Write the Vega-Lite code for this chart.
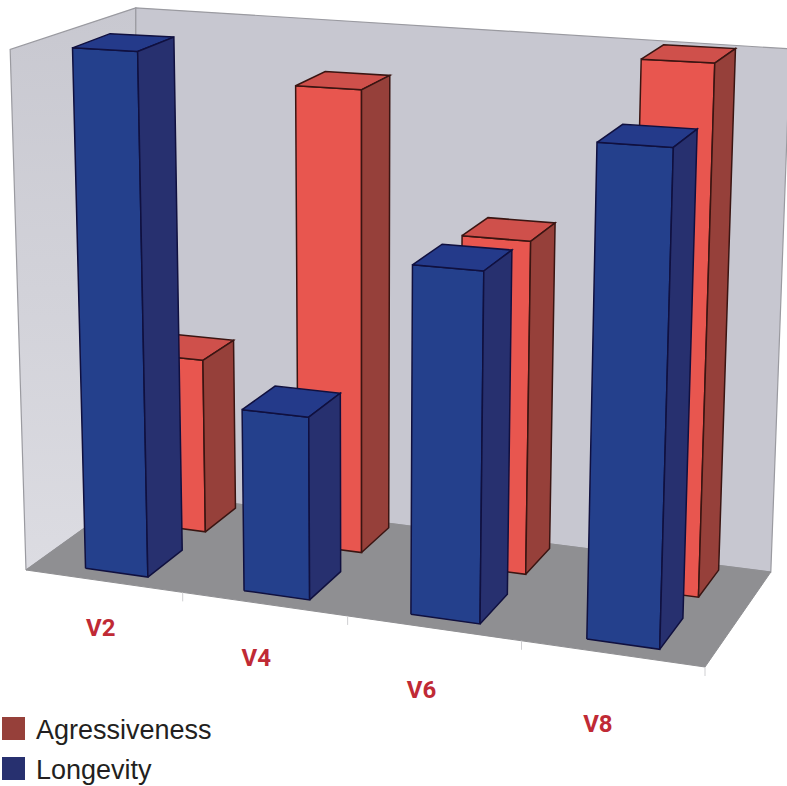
{"$schema":"https://vega.github.io/schema/vega-lite/v6.json","width":787,"height":786,"padding":0,"autosize":{"type":"none"},"background":"white","view":{"stroke":null},
"datasets":{"bars":[
{"category":"V2","series":"Agressiveness","value":35},{"category":"V4","series":"Agressiveness","value":90},{"category":"V6","series":"Agressiveness","value":64},{"category":"V8","series":"Agressiveness","value":98.5},
{"category":"V2","series":"Longevity","value":100},{"category":"V4","series":"Longevity","value":35},{"category":"V6","series":"Longevity","value":65},{"category":"V8","series":"Longevity","value":89}],
"walls":[{"wall":"left"},{"wall":"back"},{"wall":"floor"}],
"ticks":[{"tick":0.25},{"tick":0.5},{"tick":0.75},{"tick":1}],
"labels":[{"category":"V2"},{"category":"V4"},{"category":"V6"},{"category":"V8"}]},
"layer":[
{"data":{"name":"walls"},"transform":[
{"calculate":"datum.wall=='floor'?[[0,0,0,0],[1,1,0,0],[2,1,1,0],[3,0,1,0],[4,0,0,0]]:datum.wall=='back'?[[0,0,1,0],[1,1,1,0],[2,1,1,0.985],[3,0.016,1,1],[4,0,1,0]]:[[0,0,0,0],[1,0,1,0],[2,0.016,1,1],[3,0,0,1],[4,0,0,0]]","as":"vt"},
{"flatten":["vt"]},
{"calculate":"datum.vt[0]","as":"n"},
{"calculate":"(1-0.1*datum.vt[1]+0.08*datum.vt[2]-0.045*datum.vt[3])","as":"w"},
{"calculate":"(26+608.5*datum.vt[1]+120.9*datum.vt[2]-16.3*datum.vt[3])/datum.w","as":"u"},
{"calculate":"(570+30.3*datum.vt[1]-39.7*datum.vt[2]-522.7*datum.vt[3])/datum.w","as":"v"}],
"encoding":{"x":{"field":"u","type":"quantitative","scale":{"domain":[0,787]},"axis":null},"y":{"field":"v","type":"quantitative","scale":{"domain":[786,0]},"axis":null},"order":{"field":"n","type":"quantitative"},"detail":{"field":"wall"}},
"layer":[
{"transform":[{"filter":"datum.wall=='left'"}],"mark":{"type":"line","fill":{"x1":0,"y1":0,"x2":0,"y2":1,"gradient":"linear","stops":[{"offset":0,"color":"#c8c8d0"},{"offset":1,"color":"#dcdce2"}]},"stroke":"#9a9aa0","strokeWidth":1.2}},
{"transform":[{"filter":"datum.wall=='back'"}],"mark":{"type":"line","fill":"#c7c7d0","stroke":"#9a9aa0","strokeWidth":1.2}},
{"transform":[{"filter":"datum.wall=='floor'"}],"mark":{"type":"line","fill":"#8f8f92","stroke":"#8f8f92","strokeWidth":1}}
]},
{"data":{"name":"ticks"},"transform":[
{"calculate":"1-0.1*datum.tick","as":"w"},
{"calculate":"(26+608.5*datum.tick)/datum.w","as":"u"},
{"calculate":"(570+30.3*datum.tick)/datum.w","as":"v"},
{"calculate":"datum.v+9","as":"v2"}],
"mark":{"type":"rule","stroke":"#cfcfd2","strokeWidth":1},
"encoding":{"x":{"field":"u","type":"quantitative","scale":{"domain":[0,787]},"axis":null},"y":{"field":"v","type":"quantitative","scale":{"domain":[786,0]},"axis":null},"y2":{"field":"v2"}}},
{"data":{"name":"bars"},"transform":[
{"calculate":"indexof(['V2','V4','V6','V8'],datum.category)","as":"i"},
{"calculate":"[['front',0,0,0,0],['front',1,1,0,0],['front',2,1,0,1],['front',3,0,0,1],['front',4,0,0,0],['side',0,1,0,0],['side',1,1,1,0],['side',2,1,1,1],['side',3,1,0,1],['side',4,1,0,0],['top',0,0,0,1],['top',1,1,0,1],['top',2,1,1,1],['top',3,0,1,1],['top',4,0,0,1]]","as":"vt"},
{"flatten":["vt"]},
{"calculate":"datum.vt[0]","as":"face"},
{"calculate":"datum.vt[1]","as":"n"},
{"calculate":"0.078+0.2505*datum.i+0.1*datum.vt[2]","as":"a"},
{"calculate":"datum.series=='Longevity'?0.1+0.32*datum.vt[3]:0.645+0.305*datum.vt[3]","as":"d"},
{"calculate":"datum.value/100*datum.vt[4]","as":"h"},
{"calculate":"1-0.1*datum.a+0.08*datum.d-0.045*datum.h","as":"w"},
{"calculate":"(26+608.5*datum.a+120.9*datum.d-16.3*datum.h)/datum.w","as":"u"},
{"calculate":"(570+30.3*datum.a-39.7*datum.d-522.7*datum.h)/datum.w","as":"v"}],
"encoding":{"x":{"field":"u","type":"quantitative","scale":{"domain":[0,787]},"axis":null},"y":{"field":"v","type":"quantitative","scale":{"domain":[786,0]},"axis":null},"order":{"field":"n","type":"quantitative"},"detail":{"field":"category"}},
"layer":[
{"transform":[{"filter":"datum.series=='Agressiveness'&&datum.face=='front'"}],"mark":{"type":"line","fill":"#e8564f","stroke":"#3a1512","strokeWidth":1.5}},
{"transform":[{"filter":"datum.series=='Agressiveness'&&datum.face=='top'"}],"mark":{"type":"line","fill":"#cf504b","stroke":"#3a1512","strokeWidth":1.5}},
{"transform":[{"filter":"datum.series=='Agressiveness'&&datum.face=='side'"}],"mark":{"type":"line","stroke":"#3a1512","strokeWidth":1.5},"encoding":{"fill":{"field":"series","type":"nominal","title":null,"scale":{"domain":["Agressiveness","Longevity"],"range":["#96403a","#27306f"]},"legend":{"orient":"none","legendX":0,"legendY":715,"symbolType":"square","symbolSize":529,"symbolStrokeColor":"#666666","symbolStrokeWidth":1,"symbolOpacity":1,"labelFont":"Liberation Sans","labelFontSize":27,"labelColor":"#231f20","labelOffset":9,"labelLimit":400,"rowPadding":11,"encode":{"symbols":{"update":{"fill":[{"test":"datum.value=='Longevity'","value":"#2f2170"},{"value":"#a84a42"}]}},"labels":{"update":{"dy":{"value":2}}}}}}}},
{"transform":[{"filter":"datum.series=='Longevity'&&datum.face=='front'"}],"mark":{"type":"line","fill":"#24408c","stroke":"#10103f","strokeWidth":1.5}},
{"transform":[{"filter":"datum.series=='Longevity'&&datum.face=='top'"}],"mark":{"type":"line","fill":"#243a8a","stroke":"#10103f","strokeWidth":1.5}},
{"transform":[{"filter":"datum.series=='Longevity'&&datum.face=='side'"}],"mark":{"type":"line","stroke":"#10103f","strokeWidth":1.5},"encoding":{"fill":{"field":"series","type":"nominal","title":null}}}
]},
{"data":{"name":"labels"},"transform":[
{"calculate":"indexof(['V2','V4','V6','V8'],datum.category)","as":"i"},
{"calculate":"0.203+0.24*datum.i","as":"a"},
{"calculate":"-0.45-0.055*datum.i","as":"d"},
{"calculate":"1-0.1*datum.a+0.08*datum.d","as":"w"},
{"calculate":"(26+608.5*datum.a+120.9*datum.d)/datum.w","as":"u"},
{"calculate":"(570+30.3*datum.a-39.7*datum.d)/datum.w","as":"v"}],
"mark":{"type":"text","font":"Roboto","fontWeight":"bold","fontSize":24,"color":"#c02a35","baseline":"middle"},
"encoding":{"x":{"field":"u","type":"quantitative","scale":{"domain":[0,787]},"axis":null},"y":{"field":"v","type":"quantitative","scale":{"domain":[786,0]},"axis":null},"text":{"field":"category"}}}
]}
